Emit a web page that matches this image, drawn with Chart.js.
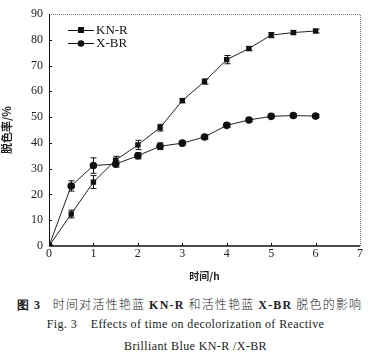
<!DOCTYPE html>
<html>
<head>
<meta charset="utf-8">
<script src="https://cdn.jsdelivr.net/npm/chart.js@4"></script>
<style>
  body { margin: 0; background: #fff; width: 371px; height: 362px; overflow: hidden; }
  #wrap { position: relative; width: 371px; height: 282px; }
  .cap { position: absolute; left: 0; width: 371px; text-align: center; font-family: "Liberation Serif", serif; color: #222; white-space: nowrap; }
  #c1 { top: 295px; font-size: 12px; font-family: "Noto Sans CJK SC", serif; font-weight: 300; letter-spacing: 1.2px; left: 4px; }
  #c2 { top: 317px; font-size: 12px; letter-spacing: 0.4px; }
  #c3 { top: 339px; font-size: 12px; left: 10px; letter-spacing: 0.4px; }
  b { font-family: "Liberation Serif", serif; font-weight: 700; }
</style>
</head>
<body>
<div id="wrap"><canvas id="chart" width="371" height="282"></canvas></div>
<div class="cap" id="c1"><b>图 3</b>&nbsp;&nbsp;&nbsp;时间对活性艳蓝 <b>KN-R</b> 和活性艳蓝 <b>X-BR</b> 脱色的影响</div>
<div class="cap" id="c2">Fig. 3&nbsp;&nbsp;&nbsp;&nbsp;Effects of time on decolorization of Reactive</div>
<div class="cap" id="c3">Brilliant Blue KN-R /X-BR</div>
<script>
const hours = [0, 0.5, 1, 1.5, 2, 2.5, 3, 3.5, 4, 4.5, 5, 5.5, 6];
const knr = [0, 12.4, 24.8, 33.3, 39.2, 45.9, 56.4, 63.8, 72.3, 76.6, 81.8, 82.8, 83.4];
const knrErr = [0, 1.5, 2.5, 1.5, 1.8, 1.3, 0.8, 1.0, 1.6, 0.8, 1.0, 0.7, 0.7];
const xbr = [0, 23.3, 31.2, 31.8, 35.0, 38.7, 39.9, 42.3, 46.8, 48.9, 50.3, 50.6, 50.4];
const xbrErr = [0, 2.0, 3.0, 1.2, 1.2, 1.3, 0.8, 0.8, 0.8, 0.6, 0.6, 0.6, 0.6];
const names = ['KN-R', 'X-BR'];

const serif = '"Liberation Serif", "Times New Roman", serif';

function pts(ys) { return hours.map((h, i) => ({x: h, y: ys[i]})); }

const errorBars = {
  id: 'errorBars',
  afterDatasetsDraw(chart) {
    const ctx = chart.ctx;
    const xs = chart.scales.x, ys = chart.scales.y;
    [[knr, knrErr], [xbr, xbrErr]].forEach(([vals, errs]) => {
      ctx.save();
      ctx.strokeStyle = '#111';
      ctx.lineWidth = 1;
      vals.forEach((v, i) => {
        if (!errs[i]) return;
        const px = Math.round(xs.getPixelForValue(hours[i])) + 0.5;
        const top = ys.getPixelForValue(v + errs[i]);
        const bot = ys.getPixelForValue(v - errs[i]);
        ctx.beginPath();
        ctx.moveTo(px, top); ctx.lineTo(px, bot);
        ctx.moveTo(px - 3, top); ctx.lineTo(px + 3, top);
        ctx.moveTo(px - 3, bot); ctx.lineTo(px + 3, bot);
        ctx.stroke();
      });
      ctx.restore();
    });
  }
};

const frame = {
  id: 'frame',
  afterDraw(chart) {
    const ctx = chart.ctx;
    const a = chart.chartArea;
    ctx.save();
    ctx.strokeStyle = '#777';
    ctx.lineWidth = 1;
    ctx.setLineDash([1, 1]);
    ctx.beginPath();
    ctx.moveTo(a.left, a.top + 0.5); ctx.lineTo(a.right + 0.5, a.top + 0.5);
    ctx.lineTo(a.right + 0.5, a.bottom);
    ctx.stroke();
    ctx.setLineDash([]);
    ctx.strokeStyle = '#111';
    ctx.lineWidth = 1.5;
    ctx.beginPath();
    ctx.moveTo(a.left, a.bottom); ctx.lineTo(a.right, a.bottom);
    ctx.stroke();
    ctx.lineWidth = 1;
    ctx.beginPath();
    ctx.moveTo(a.left + 0.5, a.top); ctx.lineTo(a.left + 0.5, a.bottom);
    ctx.stroke();
    // legend
    ctx.font = '13px ' + serif;
    ctx.fillStyle = '#111';
    ctx.textBaseline = 'middle';
    names.forEach((n, i) => {
      const y = a.top + 16 + i * 13;
      const x0 = a.left + 19;
      ctx.beginPath();
      ctx.moveTo(x0, y + 0.5); ctx.lineTo(x0 + 26, y + 0.5);
      ctx.stroke();
      if (i === 0) {
        ctx.fillRect(x0 + 10, y - 3, 6, 6);
      } else {
        ctx.beginPath();
        ctx.arc(x0 + 13, y + 0.5, 3.3, 0, Math.PI * 2);
        ctx.fill();
      }
      ctx.fillText(n, x0 + 28, y + 1);
    });
    ctx.restore();
  }
};

new Chart(document.getElementById('chart'), {
  type: 'line',
  data: {
    datasets: [
      {
        label: names[0],
        data: pts(knr),
        borderColor: '#222',
        backgroundColor: '#111',
        borderWidth: 1,
        pointStyle: 'rect',
        pointRadius: 3.8,
        pointBorderWidth: 0,
        tension: 0
      },
      {
        label: names[1],
        data: pts(xbr),
        borderColor: '#222',
        backgroundColor: '#111',
        borderWidth: 1,
        pointStyle: 'circle',
        pointRadius: 3.8,
        pointBorderWidth: 0,
        tension: 0
      }
    ]
  },
  options: {
    responsive: false,
    animation: false,
    layout: { padding: { top: 14, right: 11, left: 0, bottom: 0 } },
    plugins: { legend: { display: false }, tooltip: { enabled: false } },
    scales: {
      x: {
        type: 'linear',
        min: 0, max: 7,
        ticks: { stepSize: 1, color: '#222', font: { family: serif, size: 12 }, padding: 1 },
        grid: { display: false, drawTicks: false },
        border: { display: false },
        title: { display: true, text: '时间/h', color: '#222', font: { family: '"Noto Sans CJK SC", sans-serif', size: 10, weight: 'bold' }, padding: { top: 0, bottom: 0 } },
        afterFit(s) { s.height = 36; }
      },
      y: {
        min: 0, max: 90,
        ticks: { stepSize: 10, color: '#222', font: { family: serif, size: 12 }, padding: 6 },
        grid: { display: false, drawTicks: false },
        border: { display: false },
        title: { display: true, text: '脱色率/%', color: '#222', font: { family: '"Noto Sans CJK SC", sans-serif', size: 11, weight: 'bold' }, padding: { top: 0, bottom: 2 } },
        afterFit(s) { s.width = 49; }
      }
    }
  },
  plugins: [errorBars, frame, {
    id: 'innerTicks',
    afterDraw(chart) {
      const ctx = chart.ctx, a = chart.chartArea;
      const xs = chart.scales.x, ys = chart.scales.y;
      ctx.save();
      ctx.strokeStyle = '#111';
      ctx.lineWidth = 1;
      ctx.beginPath();
      for (let v = 1; v < 7; v++) {
        const px = Math.round(xs.getPixelForValue(v)) + 0.5;
        ctx.moveTo(px, a.bottom); ctx.lineTo(px, a.bottom - 3);
      }
      for (let v = 10; v < 90; v += 10) {
        const py = Math.round(ys.getPixelForValue(v)) + 0.5;
        ctx.moveTo(a.left, py); ctx.lineTo(a.left + 3, py);
      }
      ctx.stroke();
      ctx.restore();
    }
  }]
});
</script>
</body>
</html>
